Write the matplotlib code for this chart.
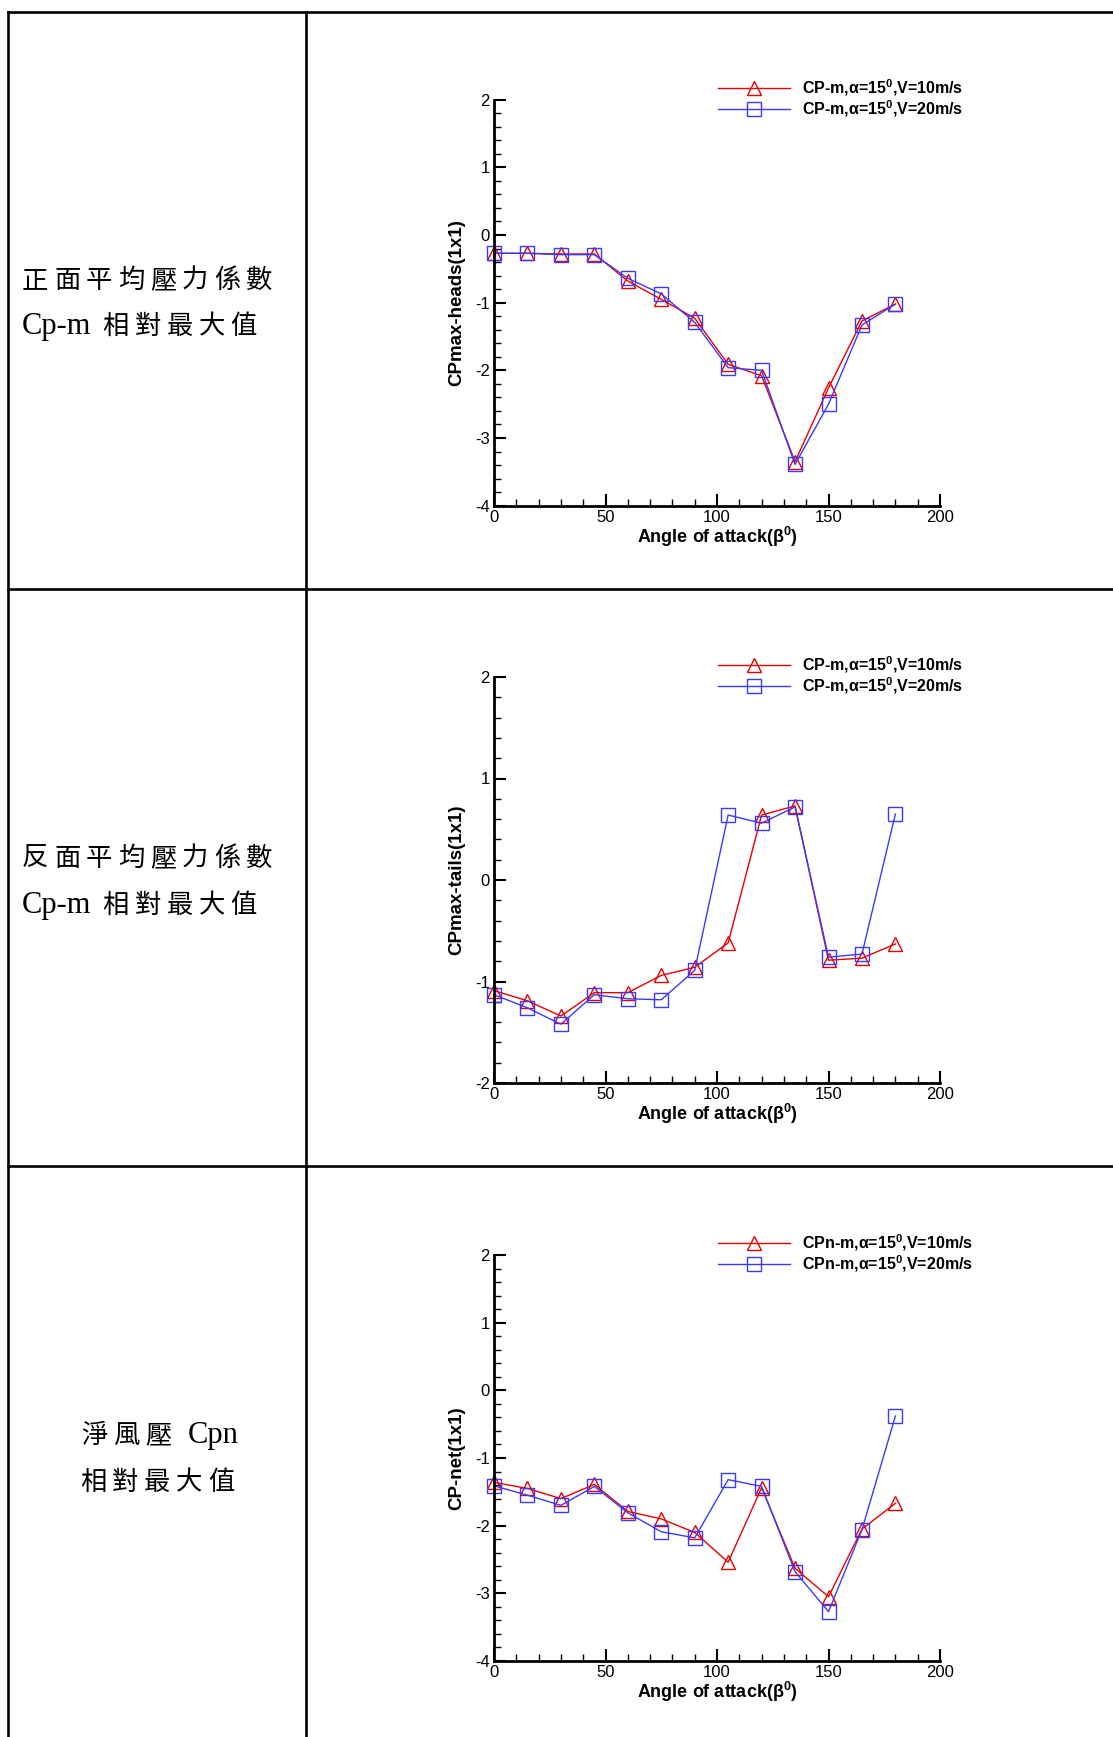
import matplotlib
matplotlib.use("Agg")
import matplotlib.pyplot as plt
from matplotlib.ticker import MultipleLocator

plt.rcParams['axes.unicode_minus'] = False
plt.rcParams['font.family'] = ['Liberation Sans', 'DejaVu Sans']
plt.rcParams['mathtext.fontset'] = 'custom'
plt.rcParams['mathtext.rm'] = 'Liberation Sans'
plt.rcParams['mathtext.bf'] = 'Liberation Sans:bold'

# angle of attack (beta)
aci = [0, 15, 30, 45, 60, 75, 90, 105, 120, 135, 150, 165, 180]

heads_v10 = [-0.27, -0.27, -0.28, -0.28, -0.68, -0.95, -1.23, -1.91, -2.08, -3.35, -2.26, -1.27, -1.02]
heads_v20 = [-0.27, -0.27, -0.29, -0.29, -0.64, -0.87, -1.29, -1.96, -2.00, -3.39, -2.50, -1.33, -1.02]

tails_v10 = [-1.09, -1.19, -1.34, -1.11, -1.11, -0.94, -0.86, -0.62, 0.64, 0.73, -0.79, -0.77, -0.63]
tails_v20 = [-1.13, -1.26, -1.42, -1.13, -1.17, -1.18, -0.89, 0.64, 0.56, 0.72, -0.76, -0.73, 0.65]

net_v10 = [-1.36, -1.45, -1.60, -1.39, -1.79, -1.90, -2.10, -2.54, -1.44, -2.63, -3.05, -2.05, -1.67]
net_v20 = [-1.41, -1.55, -1.70, -1.42, -1.81, -2.09, -2.18, -1.32, -1.42, -2.68, -3.27, -2.06, -0.38]

satir_yazilari = [[["正面平均壓力係數"], ["Cp-m", "相對最大值"]],
                  [["反面平均壓力係數"], ["Cp-m", "相對最大值"]],
                  [["淨風壓", "Cpn"], ["相對最大值"]]]
y_etiketleri = ["CPmax-heads(1x1)", "CPmax-tails(1x1)", "CP-net(1x1)"]
sup0 = r"$^{\mathbf{0}}$"
seri_adlari = [["CP-m,α=15" + sup0 + ",V=10m/s", "CP-m,α=15" + sup0 + ",V=20m/s"],
               ["CP-m,α=15" + sup0 + ",V=10m/s", "CP-m,α=15" + sup0 + ",V=20m/s"],
               ["CPn-m,α=15" + sup0 + ",V=10m/s", "CPn-m,α=15" + sup0 + ",V=20m/s"]]
y_araliklari = [(-4, 2), (-2, 2), (-4, 2)]
veriler = [(heads_v10, heads_v20), (tails_v10, tails_v20), (net_v10, net_v20)]

W, H = 1113, 1737
fig = plt.figure(figsize=(W / 100, H / 100), dpi=100)
renderer = fig.canvas.get_renderer()

# table background
tablo = fig.add_axes([0, 0, 1, 1], zorder=0)
tablo.set_xlim(0, W)
tablo.set_ylim(H, 0)
tablo.axis("off")
lw = 1.9
tablo.plot([8, 8], [12, H], color="black", lw=lw)
tablo.plot([306, 306], [12, H], color="black", lw=lw)
for yy in [12, 589, 1166]:
    tablo.plot([8, W], [yy, yy], color="black", lw=lw)

CJK_FONT = ['Noto Sans CJK TC', 'DejaVu Sans']
LAT_FONT = ['Liberation Serif', 'DejaVu Serif']
ADIM = 32.0      # pitch of one CJK character in the document
CJK_PT = 19
LAT_PT = 22

def is_cjk(s):
    return ord(s[0]) > 0x2000

def parca_genislik(p):
    if is_cjk(p):
        return len(p) * ADIM
    t = tablo.text(0, 0, p, fontsize=LAT_PT, family=LAT_FONT)
    w = t.get_window_extent(renderer).width
    t.remove()
    return w

def satir_ciz(x, y, parcalar, ortala=False):
    bosluk = 11
    toplam = sum(parca_genislik(p) for p in parcalar) + bosluk * (len(parcalar) - 1)
    if ortala:
        x = 157 - toplam / 2 + (ADIM - 26) / 2
    for p in parcalar:
        if is_cjk(p):
            for c in p:
                tablo.text(x, y, c, fontsize=CJK_PT, family=CJK_FONT, ha="left", va="baseline")
                x += ADIM
        else:
            tablo.text(x, y, p, fontsize=LAT_PT, family=LAT_FONT, ha="left", va="baseline")
            x += parca_genislik(p)
        x += bosluk

taban_y = [(288, 334), (866, 913), (1443, 1490)]
for i, (s1, s2) in enumerate(satir_yazilari):
    satir_ciz(22, taban_y[i][0], s1, ortala=(i == 2))
    satir_ciz(22, taban_y[i][1], s2, ortala=(i == 2))

ust_kenarlar = [99.7, 677, 1255]
for i in range(3):
    top = ust_kenarlar[i]
    ax = fig.add_axes([494 / W, 1 - (top + 406) / H, 446 / W, 406 / H], zorder=2)
    ax.patch.set_alpha(0)
    v10, v20 = veriler[i]
    ax.plot(aci, v10, color="#e80000", lw=1, marker="^", ms=9.5, mfc="none", mec="#e80000",
            mew=1, label=seri_adlari[i][0], clip_on=False)
    ax.plot(aci, v20, color="#3a3aff", lw=1, marker="s", ms=9.5, mfc="none", mec="#3a3aff",
            mew=1, label=seri_adlari[i][1], clip_on=False)
    ax.set_xlim(0, 200)
    ax.set_ylim(*y_araliklari[i])
    ax.spines["top"].set_visible(False)
    ax.spines["right"].set_visible(False)
    ax.spines["left"].set_linewidth(2)
    ax.spines["bottom"].set_linewidth(2)
    ax.xaxis.set_major_locator(MultipleLocator(50))
    ax.xaxis.set_minor_locator(MultipleLocator(10))
    ax.yaxis.set_major_locator(MultipleLocator(1))
    ax.yaxis.set_minor_locator(MultipleLocator(0.2))
    ax.tick_params(which="major", direction="in", length=8.5, width=1.5, labelsize=12, pad=3)
    ax.tick_params(which="minor", direction="in", length=5, width=1)
    ax.set_xlabel("Angle of attack(β" + sup0 + ")", fontsize=13, fontweight="bold", labelpad=0)
    ax.set_ylabel(y_etiketleri[i], fontsize=13.5, fontweight="bold", labelpad=7)
    ax.legend(loc="upper left", bbox_to_anchor=(0.503, 1.056), frameon=False,
              prop={"weight": "bold", "size": 11.5}, handlelength=4.5, handletextpad=0.75,
              labelspacing=0.04, borderpad=0, borderaxespad=0)

plt.savefig("out.png", dpi=100)
